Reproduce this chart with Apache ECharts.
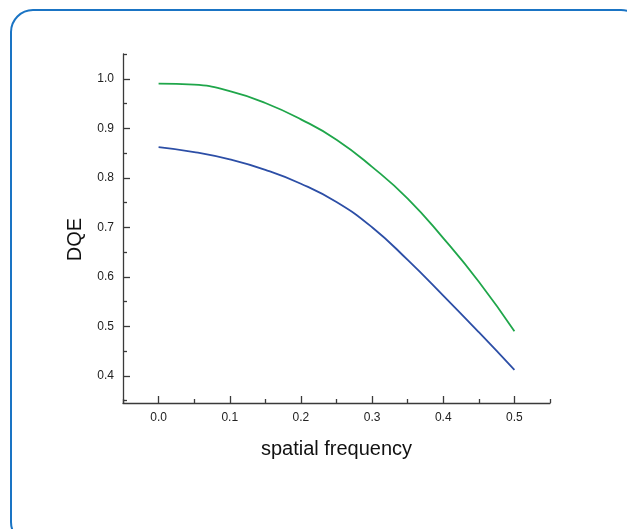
<!DOCTYPE html>
<html>
<head>
<meta charset="utf-8">
<script src="https://cdn.jsdelivr.net/npm/echarts@6/dist/echarts.min.js"></script>
<style>
  html, body { margin: 0; padding: 0; background: #fff; }
  #chart { width: 627px; height: 529px; }
</style>
</head>
<body>
<div id="chart"></div>
<script>
// spatial frequency samples
const freq = [0, 0.05, 0.1, 0.15, 0.2, 0.25, 0.3, 0.35, 0.4, 0.45, 0.5]
// DQE curves
const dqeGreen = [0.990, 0.988, 0.975, 0.951, 0.918, 0.877, 0.822, 0.758, 0.678, 0.590, 0.490]
const dqeBlue = [0.862, 0.852, 0.837, 0.816, 0.788, 0.751, 0.700, 0.634, 0.562, 0.488, 0.412]

// tick positions
const xMajor = [0, 0.1, 0.2, 0.3, 0.4, 0.5]
const xMinor = [-0.05, 0.05, 0.15, 0.25, 0.35, 0.45, 0.55]
const yMajor = [0.4, 0.5, 0.6, 0.7, 0.8, 0.9, 1.0]
const yMinor = [0.35, 0.45, 0.55, 0.65, 0.75, 0.85, 0.95, 1.05]

const font = 'Liberation Sans, Arial, sans-serif'
const axisColor = '#3a3a3a'

const chart = echarts.init(document.getElementById('chart'))

function pairs(xs, ys) {
  return xs.map((x, i) => [x, ys[i]])
}

chart.setOption({
  animation: false,
  textStyle: { fontFamily: font },
  grid: { left: 123, right: 77, top: 54, bottom: 126 },
  graphic: [{
    type: 'rect',
    z: -1,
    shape: { x: 11, y: 10, width: 632, height: 534, r: 22 },
    style: { fill: 'none', stroke: '#1a74c4', lineWidth: 2 }
  }],
  xAxis: [{
    type: 'value',
    min: -0.05,
    max: 0.55,
    name: 'spatial frequency',
    nameLocation: 'middle',
    nameGap: 36,
    nameTextStyle: { fontSize: 20, color: '#111', fontFamily: font },
    axisLine: { onZero: false, lineStyle: { color: axisColor, width: 1.3 } },
    axisTick: { inside: true, length: 7, customValues: xMajor, lineStyle: { color: axisColor, width: 1.3 } },
    axisLabel: {
      customValues: xMajor, margin: 9, fontSize: 12, color: '#222',
      formatter: v => v.toFixed(1)
    },
    splitLine: { show: false }
  }, {
    type: 'value',
    position: 'bottom',
    min: -0.05,
    max: 0.55,
    axisLine: { show: false, onZero: false },
    axisTick: { inside: true, length: 4, customValues: xMinor, lineStyle: { color: axisColor, width: 1.3 } },
    axisLabel: { show: false },
    splitLine: { show: false }
  }],
  yAxis: [{
    type: 'value',
    min: 0.345,
    max: 1.05,
    name: 'DQE',
    nameLocation: 'middle',
    nameRotate: 90,
    nameGap: 38,
    nameTextStyle: { fontSize: 20, color: '#111', fontFamily: font, padding: [0, 22, 0, 0] },
    axisLine: { onZero: false, lineStyle: { color: axisColor, width: 1.3 } },
    axisTick: { inside: true, length: 7, customValues: yMajor, lineStyle: { color: axisColor, width: 1.3 } },
    axisLabel: {
      customValues: yMajor, margin: 9, fontSize: 12, color: '#222',
      formatter: v => v.toFixed(1)
    },
    splitLine: { show: false }
  }, {
    type: 'value',
    position: 'left',
    offset: 0,
    min: 0.345,
    max: 1.05,
    axisLine: { show: false, onZero: false },
    axisTick: { inside: true, length: 4, customValues: yMinor, lineStyle: { color: axisColor, width: 1.3 } },
    axisLabel: { show: false },
    splitLine: { show: false }
  }],
  series: [{
    type: 'line',
    xAxisIndex: 0,
    yAxisIndex: 0,
    data: pairs(freq, dqeGreen),
    smooth: true,
    symbol: 'none',
    lineStyle: { color: '#1fa64a', width: 1.8 }
  }, {
    type: 'line',
    xAxisIndex: 0,
    yAxisIndex: 0,
    data: pairs(freq, dqeBlue),
    smooth: true,
    symbol: 'none',
    lineStyle: { color: '#2c4ea6', width: 1.8 }
  }]
})
</script>
</body>
</html>
